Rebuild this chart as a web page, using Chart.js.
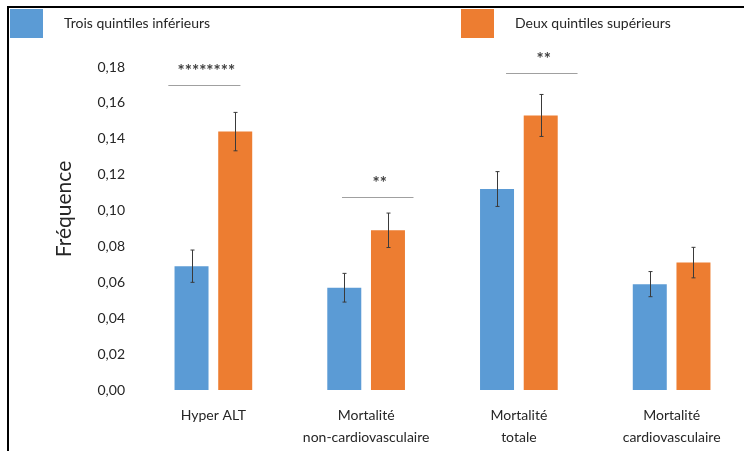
<!DOCTYPE html>
<html>
<head>
<meta charset="utf-8">
<script src="https://cdn.jsdelivr.net/npm/chart.js@4"></script>
<style>
  html, body { margin: 0; padding: 0; background: #fff; width: 744px; height: 451px; overflow: hidden; }
  #wrap { position: absolute; left: 0; top: 0; width: 760px; height: 451px; }
  #frame { position: absolute; left: 7px; top: 6px; width: 800px; height: 500px;
           border-top: 2px solid #000; border-left: 2px solid #000; pointer-events: none; }
</style>
</head>
<body>
<div id="wrap"><canvas id="freqChart" width="760" height="451"></canvas></div>
<div id="frame"></div>
<script>
// categories and values
const categories = [['Hyper ALT'], ['Mortalité', 'non-cardiovasculaire'], ['Mortalité', 'totale'], ['Mortalité', 'cardiovasculaire']];
const seriesNames = ['Trois quintiles inférieurs', 'Deux quintiles supérieurs'];
const lowerQuintiles = [0.069, 0.057, 0.112, 0.059];
const upperQuintiles = [0.144, 0.089, 0.153, 0.071];
const lowerErr = [0.0090, 0.0080, 0.0097, 0.0070];
const upperErr = [0.0107, 0.0096, 0.0117, 0.0085];
const sigCategory = [0, 1, 2];
const sigLevel = [0.1697, 0.1075, 0.1764];
const sigLabel = ['********', '**', '**'];
const yTicks = [0, 0.02, 0.04, 0.06, 0.08, 0.10, 0.12, 0.14, 0.16, 0.18];

const fontName = 'Lato, "Open Sans", sans-serif';

// error bars, significance lines, legend and y title
const extras = {
    id: 'extras',
    afterDatasetsDraw(chart) {
        const ctx = chart.ctx;
        const y = chart.scales.y;
        const errs = [lowerErr, upperErr];
        ctx.save();
        ctx.strokeStyle = '#3a3a3a';
        ctx.lineWidth = 1;
        chart.data.datasets.forEach((ds, i) => {
            chart.getDatasetMeta(i).data.forEach((bar, j) => {
                const x = Math.round(bar.x) + 0.5;
                const top = y.getPixelForValue(ds.data[j] + errs[i][j]);
                const bot = y.getPixelForValue(ds.data[j] - errs[i][j]);
                ctx.beginPath();
                ctx.moveTo(x, top); ctx.lineTo(x, bot);
                ctx.moveTo(x - 2, top); ctx.lineTo(x + 2, top);
                ctx.moveTo(x - 2, bot); ctx.lineTo(x + 2, bot);
                ctx.stroke();
            });
        });
        // significance markers
        const xs = chart.scales.x;
        const step = xs.getPixelForValue(1) - xs.getPixelForValue(0);
        const spans = [[-0.295, 0.177], [-0.158, 0.31], [-0.084, 0.384]];
        sigCategory.forEach((c, k) => {
            const cx = xs.getPixelForValue(c);
            const x0 = cx + spans[k][0] * step;
            const x1 = cx + spans[k][1] * step;
            const ly = Math.round(y.getPixelForValue(sigLevel[k])) + 0.5;
            ctx.strokeStyle = '#a0a0a0';
            ctx.lineWidth = 1.2;
            ctx.beginPath();
            ctx.moveTo(x0, ly); ctx.lineTo(x1, ly);
            ctx.stroke();
            ctx.fillStyle = '#404040';
            ctx.font = 'bold 17px ' + fontName;
            ctx.textAlign = 'center';
            ctx.textBaseline = 'middle';
            ctx.fillText(sigLabel[k], (x0 + x1) / 2 + 2, ly - 14);
        });
        // legend
        const legendX = [10, 461];
        chart.data.datasets.forEach((ds, i) => {
            ctx.fillStyle = ds.backgroundColor;
            ctx.fillRect(legendX[i], 9, 33, 29);
            ctx.fillStyle = '#262626';
            ctx.font = '14px ' + fontName;
            ctx.textAlign = 'left';
            ctx.textBaseline = 'middle';
            ctx.fillText(ds.label, legendX[i] + 54, 23);
        });
        // axis title
        ctx.save();
        ctx.translate(64, 209);
        ctx.rotate(-Math.PI / 2);
        ctx.fillStyle = '#262626';
        ctx.font = '21px ' + fontName;
        ctx.textAlign = 'center';
        ctx.textBaseline = 'middle';
        ctx.fillText('Fréquence', 0, 0);
        ctx.restore();
        ctx.restore();
    }
};

let ctx = document.getElementById('freqChart').getContext('2d');
new Chart(ctx, {
    type: 'bar',
    data: {
        labels: categories,
        datasets: [{
            label: seriesNames[0],
            data: lowerQuintiles,
            backgroundColor: '#5b9bd5',
            categoryPercentage: 0.572,
            barPercentage: 0.778
        }, {
            label: seriesNames[1],
            data: upperQuintiles,
            backgroundColor: '#ed7d31',
            categoryPercentage: 0.572,
            barPercentage: 0.778
        }]
    },
    options: {
        responsive: false,
        animation: false,
        layout: { padding: { left: 0, right: 12, top: 67, bottom: 0 } },
        plugins: {
            legend: { display: false },
            tooltip: { enabled: false }
        },
        scales: {
            x: {
                afterFit(scale) { scale.height = 61; },
                grid: { display: false, drawTicks: false },
                border: { display: false },
                ticks: {
                    color: '#262626',
                    font: { family: fontName, size: 14, lineHeight: 1.55 },
                    padding: 15,
                    maxRotation: 0
                }
            },
            y: {
                min: 0,
                max: 0.18,
                afterBuildTicks(scale) {
                    scale.ticks = yTicks.map(v => ({ value: v }));
                },
                afterFit(scale) { scale.width = 137; },
                grid: { display: false, drawTicks: false },
                border: { display: false },
                ticks: {
                    color: '#262626',
                    font: { family: fontName, size: 14 },
                    padding: 12,
                    callback: v => v.toFixed(2).replace('.', ',')
                }
            }
        }
    },
    plugins: [extras]
});
</script>
</body>
</html>
